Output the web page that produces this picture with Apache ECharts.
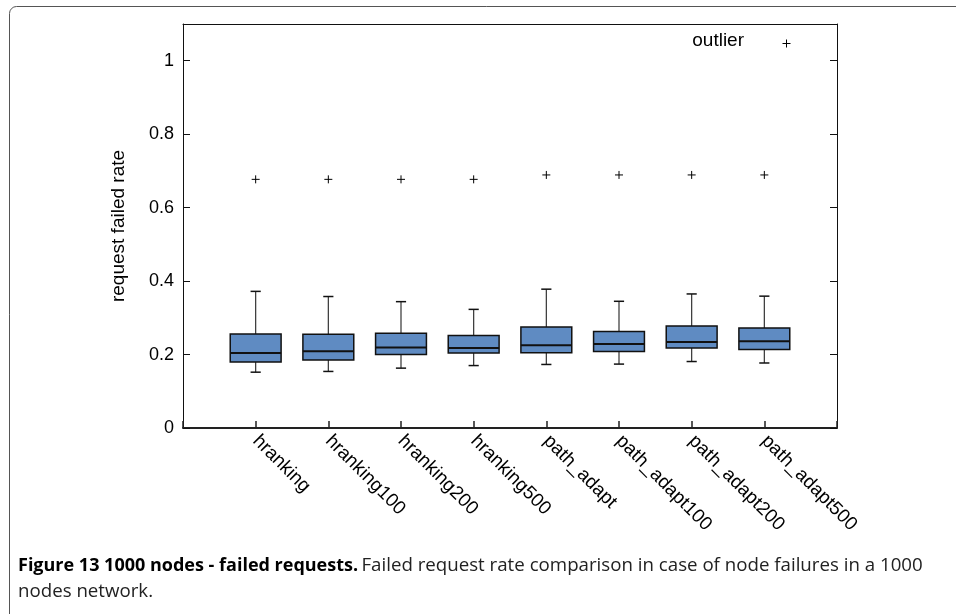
<!DOCTYPE html>
<html>
<head>
<meta charset="utf-8">
<script src="https://cdn.jsdelivr.net/npm/echarts@6/dist/echarts.min.js"></script>
<style>
html,body{margin:0;padding:0;background:#fff;}
#chart{width:956px;height:614px;}
</style>
</head>
<body>
<div id="chart"></div>
<script>
// ---- data ----
const categories = ['hranking','hranking100','hranking200','hranking500','path_adapt','path_adapt100','path_adapt200','path_adapt500'];
const whiskerLow  = [0.152, 0.154, 0.163, 0.170, 0.173, 0.174, 0.181, 0.177];
const q1          = [0.180, 0.185, 0.200, 0.204, 0.205, 0.208, 0.218, 0.214];
const median      = [0.204, 0.209, 0.219, 0.218, 0.225, 0.229, 0.234, 0.236];
const q3          = [0.256, 0.255, 0.258, 0.252, 0.275, 0.263, 0.278, 0.272];
const whiskerHigh = [0.372, 0.358, 0.344, 0.323, 0.378, 0.345, 0.365, 0.359];
const outliers    = [0.677, 0.677, 0.677, 0.677, 0.689, 0.689, 0.689, 0.689];
const yTicks = [0, 0.2, 0.4, 0.6, 0.8, 1];

const boxData = categories.map((c, i) => [i + 1, whiskerLow[i], q1[i], median[i], q3[i], whiskerHigh[i]]);
const outlierData = categories.map((c, i) => [i + 1, outliers[i]]);

const chart = echarts.init(document.getElementById('chart'));
const FONT = '"Liberation Sans", Arial, sans-serif';
const BOX_FILL = '#5f8bc2';

function renderBox(params, api) {
  const x = api.value(0);
  const pLow = api.coord([x, api.value(1)]);
  const pQ1 = api.coord([x, api.value(2)]);
  const pMed = api.coord([x, api.value(3)]);
  const pQ3 = api.coord([x, api.value(4)]);
  const pHigh = api.coord([x, api.value(5)]);
  const band = api.size([1, 0])[0];
  const bw = band * 0.70;
  const cw = band * 0.14;
  const cx = pMed[0];
  const line = (x1, y1, x2, y2, w, c) => ({
    type: 'line', shape: {x1, y1, x2, y2}, style: {stroke: c, lineWidth: w}
  });
  return {
    type: 'group',
    children: [
      line(cx, pHigh[1], cx, pQ3[1], 1.2, '#333'),
      line(cx, pQ1[1], cx, pLow[1], 1.2, '#333'),
      line(cx - cw / 2, pHigh[1], cx + cw / 2, pHigh[1], 1.5, '#111'),
      line(cx - cw / 2, pLow[1], cx + cw / 2, pLow[1], 1.5, '#111'),
      {
        type: 'rect',
        shape: {x: cx - bw / 2, y: pQ3[1], width: bw, height: pQ1[1] - pQ3[1]},
        style: {fill: BOX_FILL, stroke: '#111', lineWidth: 1.5}
      },
      line(cx - bw / 2, pMed[1], cx + bw / 2, pMed[1], 2, '#111')
    ]
  };
}

function renderPlus(params, api) {
  const p = api.coord([api.value(0), api.value(1)]);
  const h = 4;
  return {
    type: 'group',
    children: [
      {type: 'line', shape: {x1: p[0] - h, y1: p[1], x2: p[0] + h, y2: p[1]}, style: {stroke: '#000', lineWidth: 1}},
      {type: 'line', shape: {x1: p[0], y1: p[1] - h, x2: p[0], y2: p[1] + h}, style: {stroke: '#000', lineWidth: 1}}
    ]
  };
}

const option = {
  backgroundColor: '#fff',
  animation: false,
  grid: {left: 183, top: 24, width: 654, height: 404, containLabel: false},
  xAxis: [
    {
      type: 'value', min: 0, max: categories.length + 1, interval: 1,
      position: 'bottom',
      splitLine: {show: false},
      axisLine: {show: true, onZero: false, lineStyle: {color: '#222', width: 2}},
      axisTick: {show: true, inside: true, length: 7, lineStyle: {color: '#222', width: 1.5}},
      axisLabel: {
        rotate: -45, interval: 0, margin: 10,
        fontFamily: FONT, fontSize: 19, color: '#000',
        formatter: v => (v >= 1 && v <= categories.length) ? categories[v - 1] : ''
      }
    },
    {
      type: 'value', min: 0, max: categories.length + 1, position: 'top',
      axisLine: {show: true, onZero: false, lineStyle: {color: '#111', width: 1}},
      axisTick: {show: false}, axisLabel: {show: false}, splitLine: {show: false}
    }
  ],
  yAxis: [
    {
      type: 'value', min: 0, max: 1.1, interval: 0.2,
      name: 'request failed rate', nameLocation: 'middle', nameGap: 55, nameRotate: 90,
      nameTextStyle: {fontFamily: FONT, fontSize: 19, color: '#000'},
      splitLine: {show: false},
      axisLine: {show: true, onZero: false, lineStyle: {color: '#111', width: 1}},
      axisTick: {show: true, inside: true, length: 7, lineStyle: {color: '#111'}},
      axisLabel: {
        fontFamily: FONT, fontSize: 18, color: '#000', margin: 9,
        showMaxLabel: false,
        formatter: v => (v > 1.0001) ? '' : String(Math.round(v * 10) / 10)
      }
    },
    {
      type: 'value', min: 0, max: 1.1, interval: 0.2, position: 'right',
      splitLine: {show: false},
      axisLine: {show: true, onZero: false, lineStyle: {color: '#111', width: 1}},
      axisTick: {show: true, inside: true, length: 7, lineStyle: {color: '#111'}},
      axisLabel: {show: false}
    }
  ],
  series: [
    {
      type: 'custom', name: 'box', xAxisIndex: 0, yAxisIndex: 0,
      renderItem: renderBox, data: boxData, encode: {x: 0, y: [1, 2, 3, 4, 5]}, z: 3
    },
    {
      type: 'custom', name: 'outlier', xAxisIndex: 0, yAxisIndex: 0,
      renderItem: renderPlus, data: outlierData, encode: {x: 0, y: 1}, z: 3
    }
  ],
  graphic: [
    {
      type: 'rect', z: -1, silent: true,
      shape: {x: 9.5, y: 6.5, width: 1000, height: 700, r: 7},
      style: {fill: 'none', stroke: '#555', lineWidth: 1}
    },
    {
      type: 'text', right: 956 - 744, top: 31,
      style: {text: 'outlier', font: '19px ' + FONT, fill: '#000', textAlign: 'right'}
    },
    {
      type: 'group', left: 780, top: 37,
      children: [
        {type: 'line', shape: {x1: 0, y1: 4, x2: 8, y2: 4}, style: {stroke: '#000', lineWidth: 1}},
        {type: 'line', shape: {x1: 4, y1: 0, x2: 4, y2: 8}, style: {stroke: '#000', lineWidth: 1}}
      ]
    },
    {
      type: 'text', left: 18, top: 556,
      style: {
        text: '{b|Figure 13 1000 nodes - failed requests.} {r|Failed request rate comparison in case of node failures in a 1000}\n{r|nodes network.}',
        rich: {
          b: {fontFamily: 'Open Sans', fontWeight: 'bold', fontSize: 18, fill: '#000', lineHeight: 26},
          r: {fontFamily: 'Open Sans', fontSize: 18.7, fill: '#222', lineHeight: 26}
        }
      }
    }
  ]
};
chart.setOption(option);
</script>
</body>
</html>
